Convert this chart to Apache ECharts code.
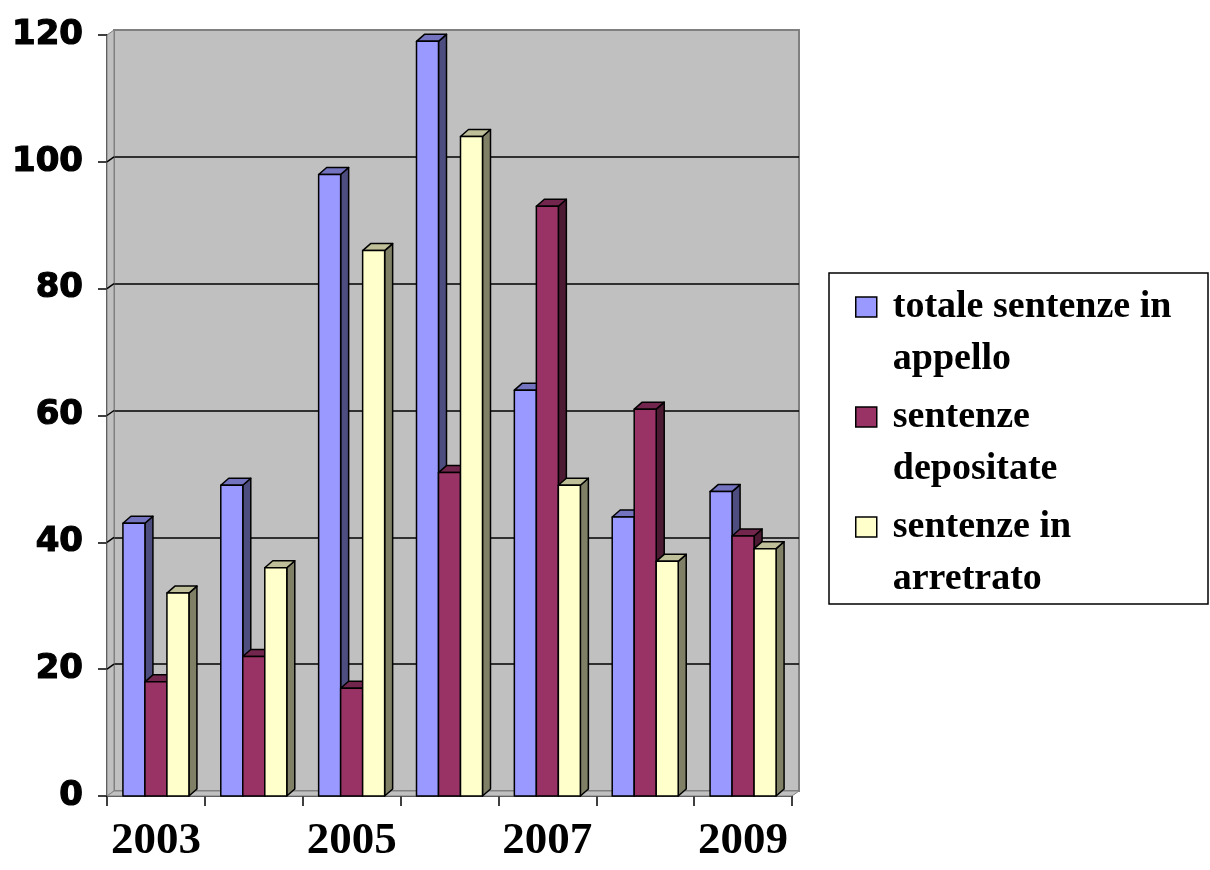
<!DOCTYPE html>
<html><head><meta charset="utf-8">
<script src="https://cdn.jsdelivr.net/npm/echarts@6/dist/echarts.min.js"></script>
<style>html,body{margin:0;padding:0;background:#fff}#c{width:1210px;height:870px}</style>
</head><body><div id="c"></div>
<script>
const categories = ['2003','2004','2005','2006','2007','2008','2009'];
const totaleAppello = [43, 49, 98, 119, 64, 44, 48];
const depositate = [18, 22, 17, 51, 93, 61, 41];
const arretrato = [32, 36, 86, 104, 49, 37, 39];
const seriesNames = ['totale sentenze in appello', 'sentenze depositate', 'sentenze in arretrato'];
const legendLines = [['totale sentenze in', 'appello'], ['sentenze', 'depositate'], ['sentenze in', 'arretrato']];
const yTicks = [0, 20, 40, 60, 80, 100, 120];

const palette = [
  {front: '#9999FF', top: '#7373BF', side: '#4D4D80'},
  {front: '#993366', top: '#73264D', side: '#4D1A33'},
  {front: '#FFFFCC', top: '#BFBF99', side: '#808066'}
];
const DX = 8, DY = 7, BAR_W = 22;
const WALL_DX = 7, WALL_DY = 5;

const chart = echarts.init(document.getElementById('c'), null, {renderer: 'canvas'});

function barRenderer(si) {
  return function (params, api) {
    const cat = api.value(0), val = api.value(1);
    const top = api.coord([cat, val]);
    const base = api.coord([cat, 0]);
    const x0 = top[0] - 1.5 * BAR_W + si * BAR_W;
    const x1 = x0 + BAR_W;
    const yT = top[1], yB = base[1];
    const c = palette[si];
    const st = (fill) => ({fill: fill, stroke: '#000', lineWidth: 1.5, lineJoin: 'round'});
    return {type: 'group', children: [
      {type: 'polygon', shape: {points: [[x1, yT], [x1 + DX, yT - DY], [x1 + DX, yB - DY], [x1, yB]]}, style: st(c.side)},
      {type: 'polygon', shape: {points: [[x0, yT], [x0 + DX, yT - DY], [x1 + DX, yT - DY], [x1, yT]]}, style: st(c.top)},
      {type: 'rect', shape: {x: x0, y: yT, width: BAR_W, height: yB - yT}, style: st(c.front)}
    ]};
  };
}

function frameRenderer(params, api) {
  const bl = api.coord([0, 0]);
  const tl = api.coord([0, 120]);
  const half = api.size([1, 0])[0] / 2;
  const xL = bl[0] - half;
  const xR = api.coord([categories.length - 1, 0])[0] + half;
  const yB = bl[1], yT = tl[1];
  return {type: 'group', children: [
    {type: 'polygon', shape: {points: [[xL, yT], [xL + WALL_DX, yT - WALL_DY], [xL + WALL_DX, yB - WALL_DY], [xL, yB]]},
      style: {fill: '#C0C0C0', stroke: '#808080', lineWidth: 1}},
    {type: 'polygon', shape: {points: [[xL, yB], [xL + WALL_DX, yB - WALL_DY], [xR + WALL_DX, yB - WALL_DY], [xR, yB]]},
      style: {fill: '#C0C0C0', stroke: '#808080', lineWidth: 1}}
  ]};
}

function diagRenderer(params, api) {
  const p = api.coord([0, api.value(1)]);
  const half = api.size([1, 0])[0] / 2;
  const xL = p[0] - half;
  return {type: 'line', shape: {x1: xL, y1: p[1], x2: xL + WALL_DX, y2: p[1] - WALL_DY},
    style: {stroke: '#000', lineWidth: 1.5}};
}

const dataSets = [totaleAppello, depositate, arretrato];

const option = {
  backgroundColor: '#fff',
  animation: false,
  grid: [
    {left: 107, right: 418, top: 35, bottom: 74, show: false},
    {left: 107 + WALL_DX, right: 418 - WALL_DX, top: 35 - WALL_DY, bottom: 74 + WALL_DY, show: true,
      backgroundColor: '#C0C0C0', borderColor: '#808080', borderWidth: 2}
  ],
  xAxis: [
    {type: 'category', gridIndex: 0, data: categories, boundaryGap: true,
      axisLine: {show: true, lineStyle: {color: '#000', width: 1.5}},
      axisTick: {show: true, interval: 0, length: 10, lineStyle: {color: '#000', width: 1.5}},
      axisLabel: {interval: 1, margin: 23, color: '#000', fontFamily: 'Liberation Serif', fontWeight: 'bold', fontSize: 45},
      splitLine: {show: false}},
    {type: 'category', gridIndex: 1, data: categories, show: false}
  ],
  yAxis: [
    {type: 'value', gridIndex: 0, min: 0, max: 120, interval: 20,
      axisLine: {show: true, lineStyle: {color: '#000', width: 1.5}},
      axisTick: {show: true, length: 9, lineStyle: {color: '#000', width: 1.5}},
      axisLabel: {margin: 24, color: '#000', fontFamily: 'DejaVu Sans', fontWeight: 'bold', fontSize: 34,
        textBorderColor: '#000', textBorderWidth: 1.2},
      splitLine: {show: false}},
    {type: 'value', gridIndex: 1, min: 0, max: 120, interval: 20,
      axisLine: {show: false}, axisTick: {show: false}, axisLabel: {show: false},
      splitLine: {show: true, showMinLine: false, showMaxLine: false, lineStyle: {color: '#000', width: 1.5}}}
  ],
  legend: {
    data: seriesNames, orient: 'vertical', left: 855, top: 229, padding: 0, itemGap: -46,
    itemWidth: 21, itemHeight: 20, icon: 'rect', selectedMode: false,
    formatter: function (n) {
      const ls = legendLines[seriesNames.indexOf(n)];
      return ' \n{sp|}' + ls[0] + '\n{sp|}' + ls[1];
    },
    itemStyle: {borderColor: '#000', borderWidth: 1.5},
    textStyle: {fontFamily: 'Liberation Serif', fontWeight: 'bold', fontSize: 38, color: '#000', lineHeight: 52,
      rich: {sp: {width: 11, height: 10}}}
  },
  graphic: [
    {type: 'rect', shape: {x: 829, y: 273, width: 379, height: 331}, style: {fill: 'none', stroke: '#000', lineWidth: 1.5}, z: 0}
  ],
  series: [
    {type: 'custom', name: 'frame', xAxisIndex: 0, yAxisIndex: 0, z: 1, silent: true,
      renderItem: frameRenderer, data: [[0, 0]]},
    {type: 'custom', name: 'diag', xAxisIndex: 0, yAxisIndex: 0, z: 1, silent: true,
      renderItem: diagRenderer, data: yTicks.slice(1, -1).map(v => [0, v])}
  ].concat(dataSets.map((arr, si) => ({
    type: 'custom', name: seriesNames[si], xAxisIndex: 0, yAxisIndex: 0, z: 3,
    itemStyle: {color: palette[si].front, borderColor: '#000', borderWidth: 1.5},
    renderItem: barRenderer(si),
    encode: {x: 0, y: 1},
    data: arr.map((v, i) => [i, v])
  })))
};
chart.setOption(option);
</script>
</body></html>
